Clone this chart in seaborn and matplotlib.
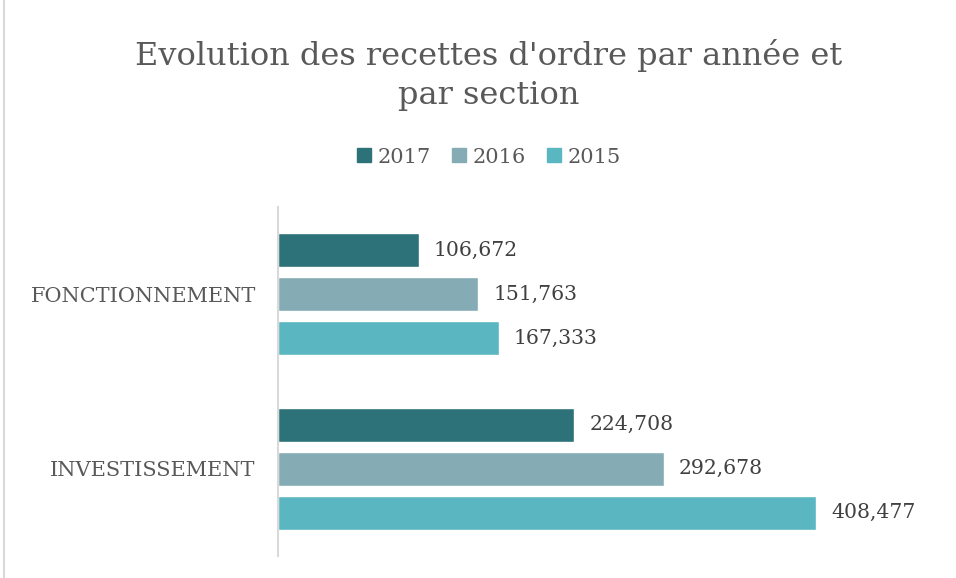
import pandas as pd
import matplotlib.pyplot as plt
import seaborn as sns
from matplotlib.lines import Line2D

# Data
sections = ["FONCTIONNEMENT", "INVESTISSEMENT"]
years = ["2017", "2016", "2015"]
values_2017 = [106672, 224708]
values_2016 = [151763, 292678]
values_2015 = [167333, 408477]

df = pd.DataFrame({
    "Section": sections * 3,
    "Année": ["2017"] * 2 + ["2016"] * 2 + ["2015"] * 2,
    "Montant": values_2017 + values_2016 + values_2015,
})

palette = {"2017": "#2E7279", "2016": "#85ACB5", "2015": "#5AB6C1"}

sns.set_style("white")
plt.rcParams['font.family'] = ['DejaVu Serif']

fig = plt.figure(figsize=(9.56, 5.78), dpi=100)
ax = fig.add_axes([0.2908, 0.038, 0.686, 0.604])

sns.barplot(data=df, y="Section", x="Montant", hue="Année", hue_order=years,
            order=sections, palette=palette, orient="h", width=0.754, gap=0.23,
            saturation=1, ax=ax, legend=False)

ax.set_xlim(0, 497500)
ax.set_ylim(1.5, -0.5)
ax.set_xlabel("")
ax.set_ylabel("")
ax.set_xticks([])
for s in ["top", "right", "bottom"]:
    ax.spines[s].set_visible(False)
ax.spines["left"].set_color("#D9D9D9")
ax.spines["left"].set_linewidth(1.5)
ax.tick_params(axis="y", length=0, pad=16, labelsize=15, labelcolor="#595959")

# Value labels
for cont in ax.containers:
    ax.bar_label(cont, labels=[f"{v:,.0f}" for v in cont.datavalues],
                 padding=11, fontsize=14.7, color="#404040")

# Title
fig.text(0.511, 0.932, "Evolution des recettes d'ordre par année et\npar section",
         ha="center", va="top", fontsize=23, color="#595959", linespacing=1.33)

# Legend
handles = [Line2D([0], [0], marker="s", linestyle="", markersize=9.4,
                  markerfacecolor=palette[y], markeredgecolor=palette[y]) for y in years]
fig.legend(handles, years, loc="center", bbox_to_anchor=(0.511, 0.728), ncol=3,
           frameon=False, fontsize=15, labelcolor="#595959", handlelength=0.7,
           handletextpad=0.3, columnspacing=1.0)

# Chart border (left edge visible)
fig.add_artist(Line2D([0.0045, 0.0045], [0, 1], transform=fig.transFigure,
                      color="#D9D9D9", linewidth=1.5))

plt.savefig("out.png", dpi=100)
